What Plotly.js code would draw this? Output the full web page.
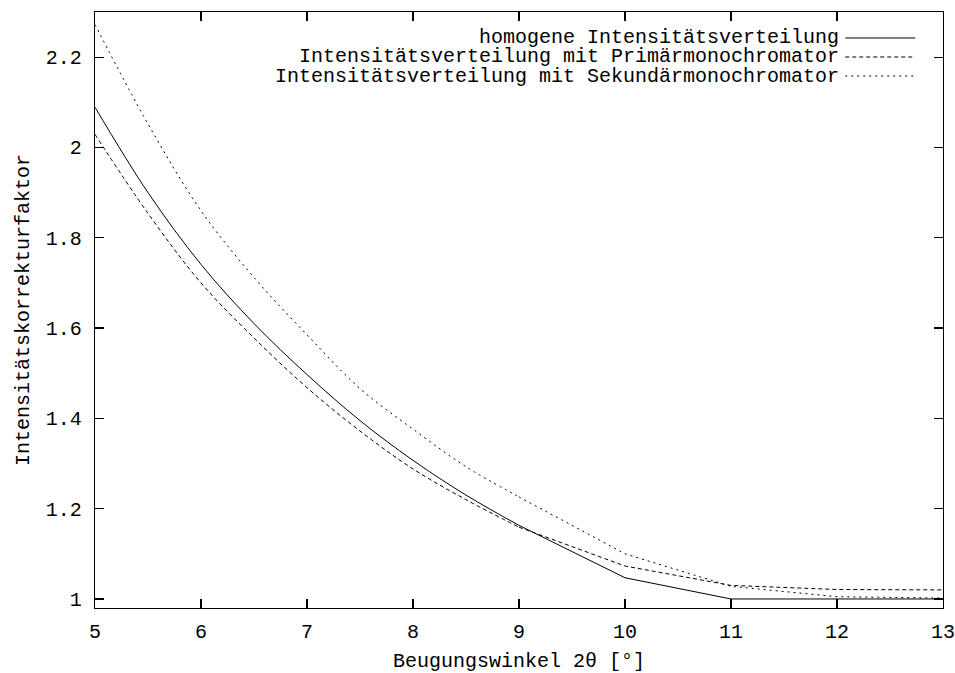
<!DOCTYPE html>
<html>
<head>
<meta charset="utf-8">
<script src="https://cdn.plot.ly/plotly-3.0.1.min.js"></script>
<style>
  html, body { margin: 0; padding: 0; background: #fff; }
  #chart { width: 955px; height: 673px; }
</style>
</head>
<body>
<div id="chart"></div>
<script>
// Beugungswinkel 2θ in Grad
const angle = [5, 5.5, 6, 6.5, 7, 7.5, 8, 8.5, 9, 10, 11, 12, 13];

// Intensitätskorrekturfaktoren der drei Verteilungen
const homogen   = [2.089, 1.900, 1.741, 1.610, 1.497, 1.395, 1.307, 1.230, 1.163, 1.047, 1.000, 1.000, 1.000];
const primaer   = [2.029, 1.854, 1.700, 1.578, 1.468, 1.372, 1.288, 1.220, 1.159, 1.073, 1.030, 1.021, 1.020];
const sekundaer = [2.272, 2.052, 1.860, 1.712, 1.585, 1.466, 1.376, 1.293, 1.226, 1.100, 1.028, 1.005, 1.002];

const seriesNames = [
  "homogene Intensitätsverteilung",
  "Intensitätsverteilung mit Primärmonochromator",
  "Intensitätsverteilung mit Sekundärmonochromator"
];

const xTicks = [5, 6, 7, 8, 9, 10, 11, 12, 13];
const yTicks = [1, 1.2, 1.4, 1.6, 1.8, 2, 2.2];
const yTickText = ["1", "1.2", "1.4", "1.6", "1.8", "2", "2.2"];

const dashes = ["solid", "4px,3px", "2px,4px"];
const seriesValues = [homogen, primaer, sekundaer];

const FONT = "Liberation Mono, Courier New, monospace";

// the densely sampled range (up to 9°) is drawn as a smooth curve,
// the coarse tail (9°..13°) as straight segments
const splitAt = angle.indexOf(9);
const traces = [];
seriesValues.forEach((vals, i) => {
  traces.push({
    x: angle.slice(0, splitAt + 1),
    y: vals.slice(0, splitAt + 1),
    type: "scatter", mode: "lines", name: seriesNames[i],
    line: { color: "#000", width: 1, dash: dashes[i], shape: "spline", smoothing: 1 },
    showlegend: false
  });
  traces.push({
    x: angle.slice(splitAt),
    y: vals.slice(splitAt),
    type: "scatter", mode: "lines", name: seriesNames[i],
    line: { color: "#000", width: 1, dash: dashes[i] },
    showlegend: false
  });
});

// Legend at top right: text right-aligned, line sample to its right
const legendRowY = [0.9564, 0.9245, 0.8926];
const annotations = seriesNames.map((n, i) => ({
  xref: "paper", yref: "paper",
  x: 0.880, y: legendRowY[i],
  xanchor: "right", yanchor: "middle",
  text: n, showarrow: false,
  font: { family: FONT, size: 20, color: "#000" }
}));
const shapes = seriesNames.map((n, i) => ({
  type: "line", xref: "paper", yref: "paper",
  x0: 0.8847, x1: 0.9673, y0: legendRowY[i], y1: legendRowY[i],
  line: { color: "#000", width: 1, dash: dashes[i] }
}));

const axisCommon = {
  showgrid: false,
  zeroline: false,
  showline: true,
  linecolor: "#000",
  linewidth: 1.3,
  mirror: "ticks",
  ticks: "inside",
  ticklen: 9,
  tickwidth: 1.3,
  tickcolor: "#000",
  ticklabeloverflow: "allow",
  tickfont: { family: FONT, size: 20, color: "#000" }
};

const layout = {
  width: 955,
  height: 673,
  margin: { l: 95, r: 12, t: 12, b: 65 },
  paper_bgcolor: "#fff",
  plot_bgcolor: "#fff",
  font: { family: FONT, size: 20, color: "#000" },
  xaxis: Object.assign({}, axisCommon, {
    range: [5, 13],
    tickmode: "array",
    tickvals: xTicks,
    ticktext: xTicks.map(String),
    ticklabelstandoff: 5,
    title: { text: "Beugungswinkel 2θ [°]", font: { family: FONT, size: 20, color: "#000" }, standoff: 10 }
  }),
  yaxis: Object.assign({}, axisCommon, {
    range: [0.98, 2.3],
    tickmode: "array",
    tickvals: yTicks,
    ticktext: yTickText,
    ticklabelstandoff: 8,
    title: { text: "Intensitätskorrekturfaktor", font: { family: FONT, size: 20, color: "#000" }, standoff: 10 }
  }),
  annotations: annotations,
  shapes: shapes
};

Plotly.newPlot("chart", traces, layout, { displayModeBar: false, staticPlot: true });
</script>
</body>
</html>
